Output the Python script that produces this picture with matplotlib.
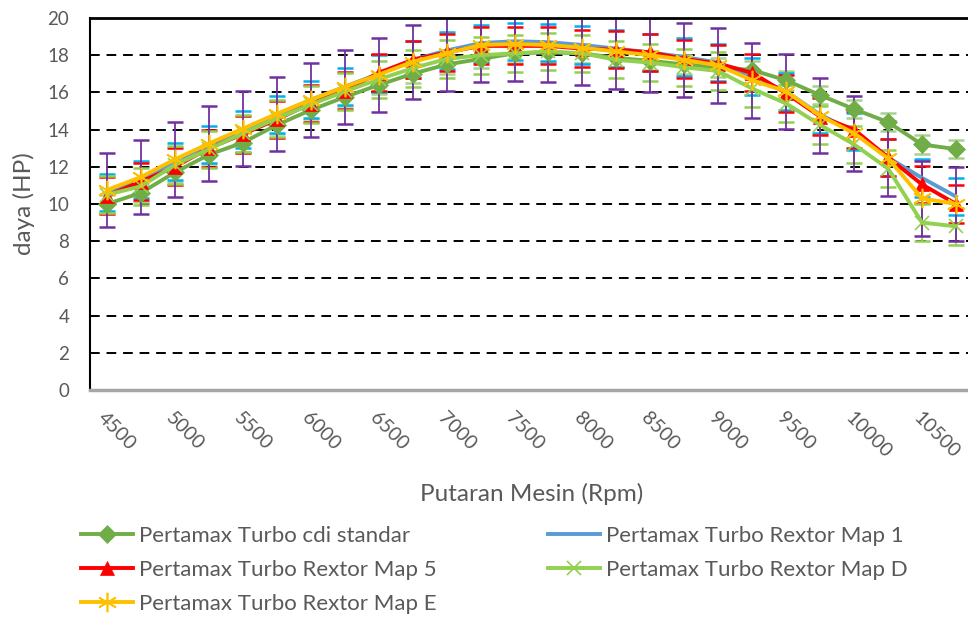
import matplotlib
matplotlib.use("Agg")
import matplotlib.pyplot as plt
import numpy as np

plt.rcParams["font.family"] = ["Lato", "DejaVu Sans"]

rpm = [4500, 4750, 5000, 5250, 5500, 5750, 6000, 6250, 6500, 6750, 7000, 7250, 7500,
       7750, 8000, 8250, 8500, 8750, 9000, 9250, 9500, 9750, 10000, 10250, 10500, 10750]

cdi_standar = [10.0, 10.6, 11.7, 12.65, 13.3, 14.25, 15.05, 15.75, 16.4, 17.0, 17.5, 17.8, 18.1,
               18.15, 18.1, 17.85, 17.7, 17.5, 17.35, 17.2, 16.65, 15.85, 15.1, 14.4, 13.2, 12.95]
map_1 = [10.6, 11.3, 12.3, 13.2, 14.0, 14.8, 15.6, 16.3, 17.0, 17.75, 18.25, 18.65, 18.75,
         18.7, 18.55, 18.35, 18.15, 17.9, 17.6, 16.85, 16.05, 14.8, 13.9, 12.5, 11.4, 10.4]
map_5 = [10.45, 11.2, 12.0, 13.0, 13.75, 14.55, 15.4, 16.1, 17.05, 17.75, 18.15, 18.5, 18.5,
         18.5, 18.35, 18.3, 18.15, 17.8, 17.55, 17.05, 15.95, 14.7, 14.0, 12.5, 11.05, 10.0]
map_d = [10.5, 10.95, 12.1, 12.95, 13.8, 14.6, 15.35, 16.05, 16.7, 17.3, 17.8, 18.0, 18.1,
         18.2, 18.1, 17.75, 17.6, 17.35, 17.15, 16.2, 15.4, 14.25, 13.2, 11.9, 9.0, 8.8]
map_e = [10.75, 11.45, 12.4, 13.25, 14.05, 14.85, 15.6, 16.3, 16.95, 17.65, 18.1, 18.55, 18.6,
         18.55, 18.4, 18.2, 18.0, 17.75, 17.45, 16.65, 16.05, 14.75, 13.8, 12.45, 10.3, 10.0]

# error bar half-widths per series
err_cdi = 0.5
err_map_1 = 1.0
err_map_5 = 1.0
err_map_d = 1.0
err_map_e = 2.0

labels = ["Pertamax Turbo cdi standar", "Pertamax Turbo Rextor Map 1",
          "Pertamax Turbo Rextor Map 5", "Pertamax Turbo Rextor Map D",
          "Pertamax Turbo Rextor Map E"]

W, H = 968, 617
fig = plt.figure(figsize=(W / 100, H / 100), dpi=100)
ax = fig.add_axes([90 / W, (H - 390) / H, 883 / W, 372 / H])

x = np.arange(len(rpm))

series = [
    (cdi_standar, err_cdi, "#70AD47", "#A9D18E", "D", 9.5, labels[0]),
    (map_1, err_map_1, "#5B9BD5", "#00B0F0", None, 0, labels[1]),
    (map_5, err_map_5, "#FF0000", "#FF0000", "^", 10, labels[2]),
    (map_d, err_map_d, "#92D050", "#92D050", "x", 10, labels[3]),
    (map_e, err_map_e, "#FFC000", "#7030A0", (6, 2, 0), 14, labels[4]),
]

handles = []
for i, (vals, err, col, ecol, mk, ms, lab) in enumerate(series):
    ax.errorbar(x, vals, yerr=err, fmt="none", ecolor=ecol, elinewidth=1.3,
                capsize=6, capthick=1.8, zorder=2 + i * 0.1)
    ln, = ax.plot(x, vals, color=col, linewidth=2.8, marker=mk, markersize=ms,
                  markeredgewidth=1.2 if mk in ("x", (6, 2, 0)) else 0.5,
                  markeredgecolor=col, label=lab, zorder=3 + i * 0.1)
    handles.append(ln)

ax.set_xlim(-0.5, len(rpm) - 0.5)
ax.set_ylim(0, 20)
ax.set_yticks(np.arange(0, 21, 2))
ax.set_xticks(x)
ax.set_xticklabels([str(r) if i % 2 == 0 else "" for i, r in enumerate(rpm)],
                   rotation=-45, ha="left", va="top", rotation_mode="anchor")
ax.tick_params(axis="both", length=0, colors="#595959")
ax.tick_params(axis="x", pad=14, labelsize=14)
ax.tick_params(axis="y", pad=15, labelsize=13.5)

for yv in range(2, 20, 2):
    ax.axhline(yv, color="black", linewidth=1.4, linestyle=(0, (5, 3.5)), zorder=1)

ax.spines["right"].set_visible(False)
ax.spines["top"].set_color("black")
ax.spines["top"].set_linewidth(2)
ax.spines["left"].set_color("black")
ax.spines["left"].set_linewidth(1.5)
ax.spines["bottom"].set_color("#A6A6A6")
ax.spines["bottom"].set_linewidth(2.5)

ax.set_ylabel("daya (HP)", fontsize=17.5, color="#595959", labelpad=9)
ax.set_xlabel("Putaran Mesin (Rpm)", fontsize=17.5, color="#595959", labelpad=15)

order = [0, 2, 4, 1, 3]
fig.legend([handles[k] for k in order], [labels[k] for k in order], ncol=2,
           loc="upper left", bbox_to_anchor=(61 / W, 1 - 506 / H), frameon=False,
           fontsize=16, handlelength=2.35, handletextpad=0.27, columnspacing=5.0,
           labelspacing=0.62, labelcolor="#595959")

fig.savefig("out.png", dpi=100)
